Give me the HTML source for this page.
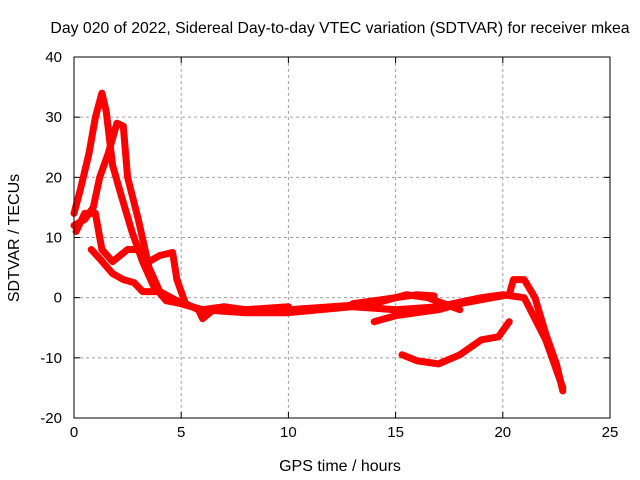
<!DOCTYPE html>
<html><head><meta charset="utf-8"><style>
body{margin:0;background:#fff}
svg{display:block;font-family:"Liberation Sans",sans-serif}
</style></head><body>
<svg id="chart" width="640" height="480">
<text x="340" y="33" text-anchor="middle" font-size="15.8">Day 020 of 2022, Sidereal Day-to-day VTEC variation (SDTVAR) for receiver mkea</text>
<text x="340" y="471" text-anchor="middle" font-size="16">GPS time / hours</text>
<text transform="translate(19,238) rotate(-90)" text-anchor="middle" font-size="16">SDTVAR / TECUs</text>
<g id="grid"></g><g id="series"></g><g id="axes"></g>
</svg>
<script>
const xTicks=[0,5,10,15,20,25];
const yTicks=[40,30,20,10,0,-10,-20];
const sA_x=[0,0.3,0.7,1.0,1.3,1.5,1.8,2.2,2.7,3.2,3.7,4.3,5,6,7,8,10,12,14,15.5,16.5,18];
const sA_y=[14,18,24,30,34,31,22,17,11,6,2,-0.5,-1,-2,-1.5,-2,-2,-1.5,-1,0.5,0,-2];
const sB_x=[0,0.5,0.9,1.2,1.6,2.0,2.3,2.5,3,3.5,4,5,6,8,10,13,15,17,19,20,21,22,22.8];
const sB_y=[12,13,15,20,24,29,28.5,20,13,5,1,-1,-2,-2.5,-2.5,-1.5,-2,-1.5,0,0.5,0,-7,-15];
const sC_x=[0.1,0.5,1.0,1.3,1.8,2.5,3.0,3.5,4.0,4.6,4.8,5.2,5.8,6,6.5,8,10];
const sC_y=[11,14,14,8,6,8,8,6,7,7.5,3,-1,-2,-3.5,-2,-2,-1.5];
const sD_x=[0.8,1.2,1.8,2.3,2.8,3.2,4,4.8,5.5];
const sD_y=[8,6.5,4,3,2.5,1,1,-0.5,-1.5];
const sE_x=[14,15,16,17,18,19.5,20.3,20.5,21,21.5,22,22.5,22.8];
const sE_y=[-4,-3,-2.5,-2,-1,0,0.5,3,3,0,-6,-11,-15.5];
const sF_x=[15.3,16,17,18,19,19.8,20.3];
const sF_y=[-9.5,-10.5,-11,-9.5,-7,-6.5,-4];
const sG_x=[13,14,15,16,16.8];
const sG_y=[-1,-0.5,0,0.5,0.3];
const series=[[sA_x,sA_y],[sB_x,sB_y],[sC_x,sC_y],[sD_x,sD_y],[sE_x,sE_y],[sF_x,sF_y],[sG_x,sG_y]];
const L=74,R=610,T=57,B=418;
const sx=v=>L+(v-0)/25*(R-L);
const sy=v=>B-(v+20)/60*(B-T);
const NS='http://www.w3.org/2000/svg';
const grid=document.getElementById('grid'),axes=document.getElementById('axes'),sg=document.getElementById('series');
function mk(t,a,p){const e=document.createElementNS(NS,t);for(const k in a)e.setAttribute(k,a[k]);p.appendChild(e);return e;}
xTicks.forEach(v=>{
  if(v>0&&v<25){const g=mk('line',{x1:sx(v),x2:sx(v),y1:T,y2:B,stroke:'#a0a0a0','stroke-dasharray':'3,3'},grid);
  
  }
  const t=mk('text',{x:sx(v),y:B+19,'text-anchor':'middle','font-size':'15'},axes);t.textContent=v;
  
  
  mk('line',{x1:sx(v),x2:sx(v),y1:B,y2:B-6,stroke:'#000'},axes);
  mk('line',{x1:sx(v),x2:sx(v),y1:T,y2:T+6,stroke:'#000'},axes);
});
yTicks.forEach(v=>{
  if(v>-20&&v<40){const g=mk('line',{x1:L,x2:R,y1:sy(v),y2:sy(v),stroke:'#a0a0a0','stroke-dasharray':'3,3'},grid);
  
  }
  const t=mk('text',{x:L-12,y:sy(v)+5,'text-anchor':'end','font-size':'15'},axes);t.textContent=v;
  
  
  mk('line',{x1:L,x2:L+6,y1:sy(v),y2:sy(v),stroke:'#000'},axes);
  mk('line',{x1:R,x2:R-6,y1:sy(v),y2:sy(v),stroke:'#000'},axes);
});
const fr=mk('rect',{x:L,y:T,width:R-L,height:B-T,fill:'none',stroke:'#000'},axes);


series.forEach(([xs,ys])=>{
  const pts=xs.map((x,i)=>sx(x).toFixed(1)+','+sy(ys[i]).toFixed(1)).join(' ');
  const p=mk('polyline',{points:pts,fill:'none',stroke:'#ff0000','stroke-width':7,'stroke-linejoin':'round','stroke-linecap':'round'},sg);
  
  
});
</script>
</body></html>
